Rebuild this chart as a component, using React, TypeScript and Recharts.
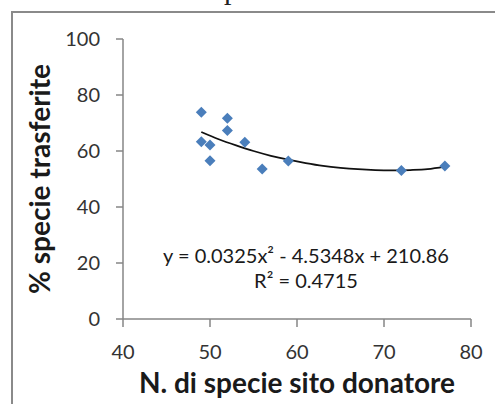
import React from "react"
import { ScatterChart, Scatter, XAxis, YAxis } from "recharts"

// N. di specie sito donatore vs % specie trasferite
const donorSpecies = [49, 49, 50, 50, 52, 52, 54, 56, 59, 72, 77]
const transferredPct = [73.8, 63.3, 62.1, 56.5, 71.7, 67.3, 63.1, 53.6, 56.4, 53.0, 54.6]

// polynomial trendline
const trendX = [49, 51, 53, 55, 57, 59, 61, 63, 65, 67, 69, 71, 73, 75, 77]
const trendY = [66.8, 64.2, 62.0, 60.0, 58.3, 56.9, 55.7, 54.7, 54.0, 53.5, 53.2, 53.1, 53.2, 53.5, 54.4]

const xTicks = [40, 50, 60, 70, 80]
const yTicks = [0, 20, 40, 60, 80, 100]

const equation = "y = 0.0325x² - 4.5348x + 210.86"
const rSquared = "R² = 0.4715"

const points = donorSpecies.map((x, i) => ({ x, y: transferredPct[i] }))
const trend = trendX.map((x, i) => ({ x, y: trendY[i] }))

const AXIS = "#868686"
const FONT = "Lato, 'Open Sans', sans-serif"

function Diamond(props: any) {
  const { cx, cy } = props
  const r = 5.5
  return (
    <polygon
      points={`${cx},${cy - r} ${cx + r},${cy} ${cx},${cy + r} ${cx - r},${cy}`}
      fill="#4a7ebb"
    />
  )
}

export default function App() {
  const tick = { fontSize: 20, fill: "#333", fontFamily: FONT }
  return (
    <div
      style={{
        position: "absolute",
        left: 0,
        top: 0,
        width: 495,
        height: 404,
        background: "#fff",
        overflow: "hidden",
        fontFamily: FONT,
      }}
    >
      <div
        style={{
          position: "absolute",
          left: 224,
          top: -26,
          fontFamily: "'Liberation Serif', serif",
          fontSize: 30,
          lineHeight: "30px",
          color: "#222",
        }}
      >
        p
      </div>
      <div
        style={{
          position: "absolute",
          left: 11,
          top: 11,
          width: 500,
          height: 420,
          border: "2px solid #8a8a8a",
        }}
      />
      <div style={{ position: "absolute", left: 0, top: 0 }}>
        <ScatterChart width={495} height={404} margin={{ top: 39, right: 24, bottom: 50, left: 15 }}>
          <XAxis
            type="number"
            dataKey="x"
            domain={[40, 80]}
            ticks={xTicks}
            height={35}
            tickSize={8}
            tickMargin={18}
            axisLine={{ stroke: AXIS, strokeWidth: 1.5 }}
            tickLine={{ stroke: AXIS, strokeWidth: 1.5 }}
            tick={tick}
            label={{
              value: "N. di specie sito donatore",
              position: "bottom",
              offset: 19,
              style: { fontSize: 28, fontWeight: 700, fill: "#1a1a1a", fontFamily: FONT },
            }}
          />
          <YAxis
            type="number"
            dataKey="y"
            domain={[0, 100]}
            ticks={yTicks}
            width={108}
            tickSize={7}
            tickMargin={16}
            axisLine={{ stroke: AXIS, strokeWidth: 1.5 }}
            tickLine={{ stroke: AXIS, strokeWidth: 1.5 }}
            tick={tick}
            label={{
              value: "% specie trasferite",
              angle: -90,
              position: "insideLeft",
              offset: 25,
              style: { textAnchor: "middle", fontSize: 28, fontWeight: 700, fill: "#1a1a1a", fontFamily: FONT },
            }}
          />
          <Scatter
            data={trend}
            line={{ stroke: "#111", strokeWidth: 1.8 }}
            lineJointType="monotoneX"
            shape={() => <g />}
            isAnimationActive={false}
          />
          <Scatter data={points} shape={Diamond} isAnimationActive={false} />
        </ScatterChart>
      </div>
      <div
        style={{
          position: "absolute",
          left: 106,
          top: 243,
          width: 400,
          textAlign: "center",
          fontSize: 20,
          lineHeight: "25px",
          color: "#1a1a1a",
        }}
      >
        <div>{equation}</div>
        <div>{rSquared}</div>
      </div>
    </div>
  )
}
